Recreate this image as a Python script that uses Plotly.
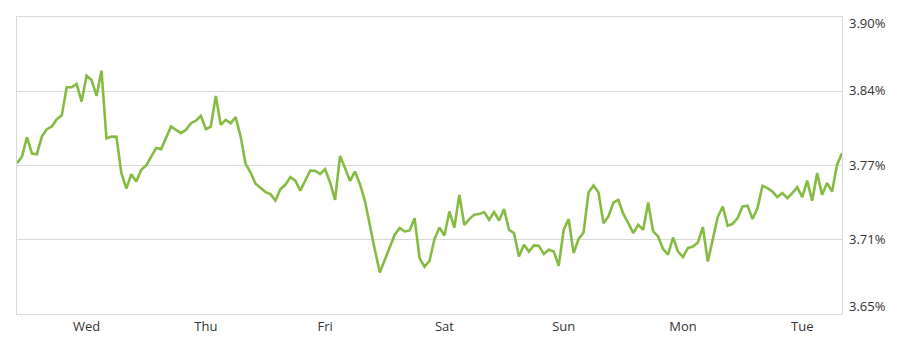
import pandas as pd
import plotly.graph_objects as go

# Hourly values (percent), starting Tuesday 10:00
start_time = "2024-10-01 10:00"
rates = [
    3.7770, 3.7825, 3.7988, 3.7851, 3.7845, 3.7993, 3.8056, 3.8078, 3.8140, 3.8170,
    3.8409, 3.8409, 3.8437, 3.8288, 3.8506, 3.8470, 3.8336, 3.8548, 3.7977, 3.7993,
    3.7991, 3.7686, 3.7556, 3.7677, 3.7615, 3.7713, 3.7750, 3.7827, 3.7898, 3.7888,
    3.7980, 3.8078, 3.8050, 3.8022, 3.8050, 3.8106, 3.8128, 3.8168, 3.8056, 3.8078,
    3.8336, 3.8092, 3.8134, 3.8106, 3.8157, 3.7993, 3.7764, 3.7691, 3.7596, 3.7560,
    3.7526, 3.7509, 3.7455, 3.7551, 3.7587, 3.7652, 3.7623, 3.7539, 3.7623, 3.7708,
    3.7705, 3.7677, 3.7719, 3.7607, 3.7461, 3.7831, 3.7728, 3.7621, 3.7699, 3.7593,
    3.7453, 3.7237, 3.7041, 3.6850, 3.6957, 3.7063, 3.7167, 3.7223, 3.7195, 3.7203,
    3.7307, 3.6971, 3.6898, 3.6948, 3.7131, 3.7228, 3.7161, 3.7363, 3.7228, 3.7503,
    3.7251, 3.7299, 3.7335, 3.7341, 3.7358, 3.7293, 3.7358, 3.7287, 3.7383, 3.7209,
    3.7181, 3.6984, 3.7083, 3.7026, 3.7077, 3.7074, 3.7005, 3.7041, 3.7026, 3.6906,
    3.7209, 3.7299, 3.7013, 3.7131, 3.7186, 3.7523, 3.7581, 3.7523, 3.7265, 3.7321,
    3.7438, 3.7461, 3.7343, 3.7265, 3.7181, 3.7251, 3.7209, 3.7438, 3.7195, 3.7153,
    3.7047, 3.6999, 3.7144, 3.7026, 3.6979, 3.7055, 3.7068, 3.7102, 3.7232, 3.6942,
    3.7125, 3.7316, 3.7405, 3.7243, 3.7259, 3.7307, 3.7405, 3.7411, 3.7299, 3.7391,
    3.7579, 3.7560, 3.7531, 3.7484, 3.7518, 3.7475, 3.7518, 3.7568, 3.7484, 3.7623,
    3.7453, 3.7686, 3.7503, 3.7602, 3.7531, 3.7755, 3.7854,
]

day_ticks = ["2024-10-02", "2024-10-03", "2024-10-04", "2024-10-05",
             "2024-10-06", "2024-10-07", "2024-10-08"]
day_labels = ["Wed", "Thu", "Fri", "Sat", "Sun", "Mon", "Tue"]

y_ticks = [3.65, 3.7125, 3.775, 3.8375, 3.90]
y_labels = ["3.65%", "3.71%", "3.77%", "3.84%", "3.90%"]
y_range = [3.65, 3.90]

times = pd.date_range(start=start_time, periods=len(rates), freq="h")

GRID = "#d9d9d9"
TEXT = "#333333"
FONT = "Open Sans"

fig = go.Figure()
fig.add_trace(go.Scatter(
    x=times, y=rates, mode="lines",
    line=dict(color="#86bb43", width=2.6),
    hoverinfo="skip",
))

annotations = []
for v, t in zip(y_ticks, y_labels):
    if v == max(y_ticks):
        shift = -6
    elif v == min(y_ticks):
        shift = 8
    else:
        shift = 1
    annotations.append(dict(
        x=1, xref="paper", xanchor="left", xshift=5,
        y=v, yref="y", yanchor="middle", yshift=shift,
        text=t, showarrow=False,
        font=dict(family=FONT, size=13, color=TEXT),
    ))

fig.update_layout(
    width=900, height=350,
    margin=dict(l=17, r=58, t=17, b=36),
    paper_bgcolor="white", plot_bgcolor="white",
    showlegend=False,
    annotations=annotations,
    xaxis=dict(
        range=[times[0], times[-1]],
        tickmode="array", tickvals=pd.to_datetime(day_ticks), ticktext=day_labels,
        showgrid=False, zeroline=False,
        showline=True, linecolor=GRID, linewidth=1, mirror=True,
        ticks="", tickfont=dict(family=FONT, size=13, color=TEXT),
    ),
    yaxis=dict(
        range=y_range, side="right",
        tickmode="array", tickvals=y_ticks, showticklabels=False,
        showgrid=True, gridcolor=GRID, gridwidth=1, zeroline=False,
        showline=True, linecolor=GRID, linewidth=1, mirror=True,
        ticks="",
    ),
)

fig.write_html("out.html")
